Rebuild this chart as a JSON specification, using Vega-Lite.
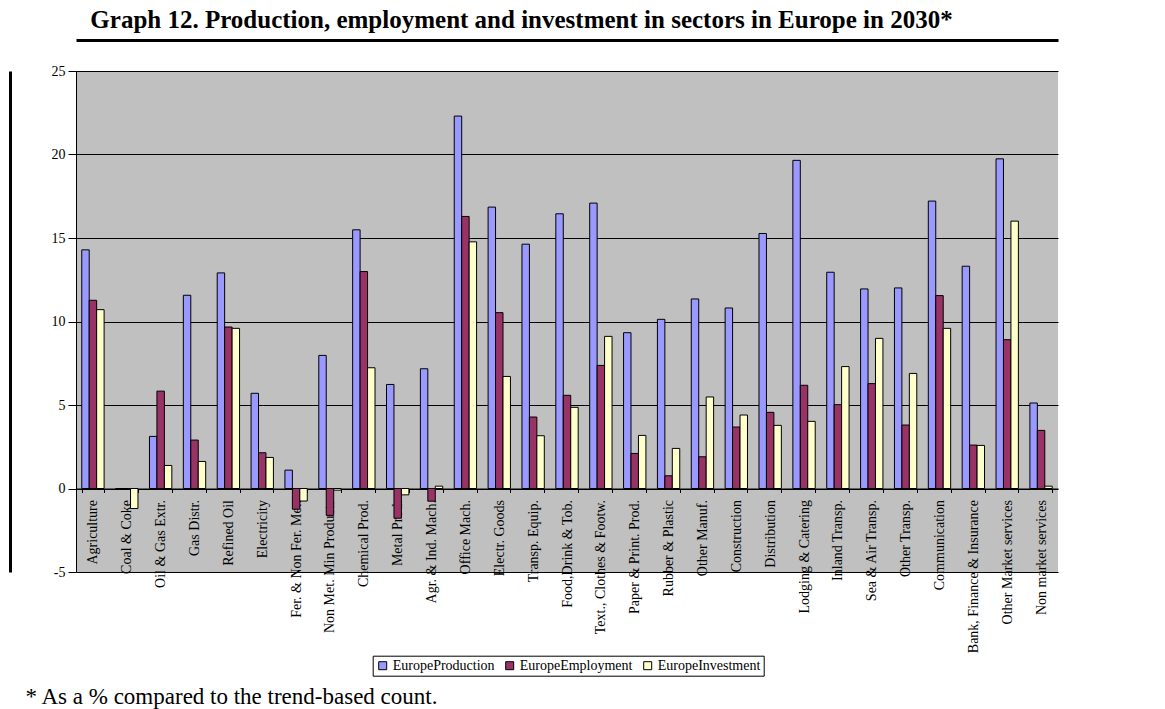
{
  "$schema": "https://vega.github.io/schema/vega-lite/v6.json",
  "width": 982,
  "height": 501,
  "autosize": {"type": "none"},
  "padding": {"left": 76, "top": 71, "right": 107, "bottom": 137},
  "background": "white",
  "config": {"font": "Liberation Serif", "view": {"fill": "#C0C0C0", "stroke": null}},
  "data": {
    "values": [
      {"sector": "Agriculture", "series": "EuropeProduction", "value": 14.29},
      {"sector": "Agriculture", "series": "EuropeEmployment", "value": 11.27},
      {"sector": "Agriculture", "series": "EuropeInvestment", "value": 10.71},
      {"sector": "Coal & Coke", "series": "EuropeProduction", "value": 0},
      {"sector": "Coal & Coke", "series": "EuropeEmployment", "value": 0},
      {"sector": "Coal & Coke", "series": "EuropeInvestment", "value": -1.2},
      {"sector": "Oil & Gas Extr.", "series": "EuropeProduction", "value": 3.12},
      {"sector": "Oil & Gas Extr.", "series": "EuropeEmployment", "value": 5.83},
      {"sector": "Oil & Gas Extr.", "series": "EuropeInvestment", "value": 1.38},
      {"sector": "Gas Distr.", "series": "EuropeProduction", "value": 11.57},
      {"sector": "Gas Distr.", "series": "EuropeEmployment", "value": 2.9},
      {"sector": "Gas Distr.", "series": "EuropeInvestment", "value": 1.62},
      {"sector": "Refined Oil", "series": "EuropeProduction", "value": 12.91},
      {"sector": "Refined Oil", "series": "EuropeEmployment", "value": 9.67},
      {"sector": "Refined Oil", "series": "EuropeInvestment", "value": 9.59},
      {"sector": "Electricity", "series": "EuropeProduction", "value": 5.7},
      {"sector": "Electricity", "series": "EuropeEmployment", "value": 2.14},
      {"sector": "Electricity", "series": "EuropeInvestment", "value": 1.86},
      {"sector": "Fer. & Non Fer. Met.", "series": "EuropeProduction", "value": 1.1},
      {"sector": "Fer. & Non Fer. Met.", "series": "EuropeEmployment", "value": -1.24},
      {"sector": "Fer. & Non Fer. Met.", "series": "EuropeInvestment", "value": -0.75},
      {"sector": "Non Met. Min Products", "series": "EuropeProduction", "value": 7.97},
      {"sector": "Non Met. Min Products", "series": "EuropeEmployment", "value": -1.61},
      {"sector": "Non Met. Min Products", "series": "EuropeInvestment", "value": -0.1},
      {"sector": "Chemical Prod.", "series": "EuropeProduction", "value": 15.49},
      {"sector": "Chemical Prod.", "series": "EuropeEmployment", "value": 12.99},
      {"sector": "Chemical Prod.", "series": "EuropeInvestment", "value": 7.23},
      {"sector": "Metal Prod.", "series": "EuropeProduction", "value": 6.23},
      {"sector": "Metal Prod.", "series": "EuropeEmployment", "value": -1.78},
      {"sector": "Metal Prod.", "series": "EuropeInvestment", "value": -0.38},
      {"sector": "Agr. & Ind. Mach.", "series": "EuropeProduction", "value": 7.17},
      {"sector": "Agr. & Ind. Mach.", "series": "EuropeEmployment", "value": -0.76},
      {"sector": "Agr. & Ind. Mach.", "series": "EuropeInvestment", "value": 0.14},
      {"sector": "Office Mach.", "series": "EuropeProduction", "value": 22.3},
      {"sector": "Office Mach.", "series": "EuropeEmployment", "value": 16.29},
      {"sector": "Office Mach.", "series": "EuropeInvestment", "value": 14.77},
      {"sector": "Electr. Goods", "series": "EuropeProduction", "value": 16.85},
      {"sector": "Electr. Goods", "series": "EuropeEmployment", "value": 10.53},
      {"sector": "Electr. Goods", "series": "EuropeInvestment", "value": 6.71},
      {"sector": "Transp. Equip.", "series": "EuropeProduction", "value": 14.63},
      {"sector": "Transp. Equip.", "series": "EuropeEmployment", "value": 4.28},
      {"sector": "Transp. Equip.", "series": "EuropeInvestment", "value": 3.16},
      {"sector": "Food,Drink & Tob.", "series": "EuropeProduction", "value": 16.45},
      {"sector": "Food,Drink & Tob.", "series": "EuropeEmployment", "value": 5.58},
      {"sector": "Food,Drink & Tob.", "series": "EuropeInvestment", "value": 4.86},
      {"sector": "Text., Clothes & Footw.", "series": "EuropeProduction", "value": 17.09},
      {"sector": "Text., Clothes & Footw.", "series": "EuropeEmployment", "value": 7.37},
      {"sector": "Text., Clothes & Footw.", "series": "EuropeInvestment", "value": 9.11},
      {"sector": "Paper & Print. Prod.", "series": "EuropeProduction", "value": 9.33},
      {"sector": "Paper & Print. Prod.", "series": "EuropeEmployment", "value": 2.1},
      {"sector": "Paper & Print. Prod.", "series": "EuropeInvestment", "value": 3.18},
      {"sector": "Rubber & Plastic", "series": "EuropeProduction", "value": 10.13},
      {"sector": "Rubber & Plastic", "series": "EuropeEmployment", "value": 0.76},
      {"sector": "Rubber & Plastic", "series": "EuropeInvestment", "value": 2.4},
      {"sector": "Other Manuf.", "series": "EuropeProduction", "value": 11.35},
      {"sector": "Other Manuf.", "series": "EuropeEmployment", "value": 1.9},
      {"sector": "Other Manuf.", "series": "EuropeInvestment", "value": 5.48},
      {"sector": "Construction", "series": "EuropeProduction", "value": 10.81},
      {"sector": "Construction", "series": "EuropeEmployment", "value": 3.68},
      {"sector": "Construction", "series": "EuropeInvestment", "value": 4.4},
      {"sector": "Distribution", "series": "EuropeProduction", "value": 15.27},
      {"sector": "Distribution", "series": "EuropeEmployment", "value": 4.56},
      {"sector": "Distribution", "series": "EuropeInvestment", "value": 3.78},
      {"sector": "Lodging & Catering", "series": "EuropeProduction", "value": 19.65},
      {"sector": "Lodging & Catering", "series": "EuropeEmployment", "value": 6.18},
      {"sector": "Lodging & Catering", "series": "EuropeInvestment", "value": 4.02},
      {"sector": "Inland Transp.", "series": "EuropeProduction", "value": 12.95},
      {"sector": "Inland Transp.", "series": "EuropeEmployment", "value": 5.02},
      {"sector": "Inland Transp.", "series": "EuropeInvestment", "value": 7.3},
      {"sector": "Sea & Air Transp.", "series": "EuropeProduction", "value": 11.95},
      {"sector": "Sea & Air Transp.", "series": "EuropeEmployment", "value": 6.28},
      {"sector": "Sea & Air Transp.", "series": "EuropeInvestment", "value": 8.99},
      {"sector": "Other Transp.", "series": "EuropeProduction", "value": 12.01},
      {"sector": "Other Transp.", "series": "EuropeEmployment", "value": 3.8},
      {"sector": "Other Transp.", "series": "EuropeInvestment", "value": 6.89},
      {"sector": "Communication", "series": "EuropeProduction", "value": 17.21},
      {"sector": "Communication", "series": "EuropeEmployment", "value": 11.55},
      {"sector": "Communication", "series": "EuropeInvestment", "value": 9.59},
      {"sector": "Bank, Finance & Insurance", "series": "EuropeProduction", "value": 13.31},
      {"sector": "Bank, Finance & Insurance", "series": "EuropeEmployment", "value": 2.6},
      {"sector": "Bank, Finance & Insurance", "series": "EuropeInvestment", "value": 2.58},
      {"sector": "Other Market services", "series": "EuropeProduction", "value": 19.74},
      {"sector": "Other Market services", "series": "EuropeEmployment", "value": 8.91},
      {"sector": "Other Market services", "series": "EuropeInvestment", "value": 16.01},
      {"sector": "Non market services", "series": "EuropeProduction", "value": 5.12},
      {"sector": "Non market services", "series": "EuropeEmployment", "value": 3.48},
      {"sector": "Non market services", "series": "EuropeInvestment", "value": 0.14}
    ]
  },
  "layer": [
    {
      "mark": {"type": "bar", "stroke": "black", "strokeWidth": 1},
      "encoding": {
        "x": {
          "field": "sector",
          "type": "nominal",
          "sort": null,
          "scale": {"paddingInner": 0.34, "paddingOuter": 0.17},
          "axis": {
            "orient": "bottom",
            "offset": -83.5,
            "tickBand": "extent",
            "tickSize": 4,
            "tickColor": "black",
            "domainColor": "black",
            "labelAngle": -90,
            "labelAlign": "right",
            "labelBaseline": "middle",
            "labelFont": "Liberation Serif",
            "labelFontSize": 14,
            "labelColor": "black",
            "labelPadding": 7,
            "labelLimit": 0,
            "labelOverlap": false,
            "grid": false,
            "title": "* As a % compared to the trend-based count.",
            "titleFont": "Liberation Serif",
            "titleFontSize": 23,
            "titleFontWeight": "normal",
            "titleColor": "black",
            "titleAnchor": "start",
            "titleAlign": "left",
            "titleBaseline": "alphabetic",
            "titleX": -51,
            "titleY": 214.5
          }
        },
        "xOffset": {
          "field": "series",
          "type": "nominal",
          "sort": ["EuropeProduction", "EuropeEmployment", "EuropeInvestment"],
          "scale": {"paddingInner": 0, "paddingOuter": 0}
        },
        "y": {
          "field": "value",
          "type": "quantitative",
          "scale": {"domain": [-5, 25], "nice": false, "zero": false},
          "axis": {
            "values": [-5, 0, 5, 10, 15, 20, 25],
            "labelExpr": "'' + datum.value",
            "grid": true,
            "gridColor": "black",
            "gridOpacity": 1,
            "gridWidth": 1,
            "domainColor": "black",
            "tickColor": "black",
            "tickSize": 8,
            "labelFont": "Liberation Serif",
            "labelFontSize": 14,
            "labelColor": "black",
            "labelPadding": 3,
            "title": null
          }
        },
        "color": {
          "field": "series",
          "type": "nominal",
          "sort": ["EuropeProduction", "EuropeEmployment", "EuropeInvestment"],
          "scale": {
            "domain": ["EuropeProduction", "EuropeEmployment", "EuropeInvestment"],
            "range": ["#9999FF", "#993366", "#FFFFCC"]
          },
          "legend": {
            "orient": "none",
            "legendX": 296.7,
            "legendY": 584.7,
            "direction": "horizontal",
            "title": null,
            "strokeColor": "black",
            "fillColor": "white",
            "padding": 3,
            "symbolType": "square",
            "symbolSize": 64,
            "symbolStrokeColor": "black",
            "symbolStrokeWidth": 1,
            "symbolOpacity": 1,
            "labelFont": "Liberation Serif",
            "labelFontSize": 14,
            "labelColor": "black",
            "labelOffset": 3,
            "labelLimit": 0,
            "columnPadding": 8
          }
        }
      }
    },
    {
      "mark": {"type": "bar", "opacity": 0},
      "encoding": {
        "x": {
          "field": "sector",
          "type": "nominal",
          "sort": null,
          "axis": {
            "orient": "top",
            "offset": 31,
            "domainWidth": 3,
            "domainColor": "black",
            "ticks": false,
            "labels": false,
            "grid": false,
            "title": "Graph 12. Production, employment and investment in sectors in Europe in 2030*",
            "titleFont": "Liberation Serif",
            "titleFontSize": 25,
            "titleFontWeight": "bold",
            "titleColor": "black",
            "titleAlign": "center",
            "titleBaseline": "alphabetic",
            "titleX": 445,
            "titleY": -13
          }
        },
        "y": {
          "field": "value",
          "type": "quantitative",
          "axis": {"orient": "left", "offset": 66, "domainWidth": 3, "domainColor": "black", "ticks": false, "labels": false, "title": null, "grid": false}
        }
      }
    }
  ],
  "resolve": {"axis": {"x": "independent", "y": "independent"}}
}
